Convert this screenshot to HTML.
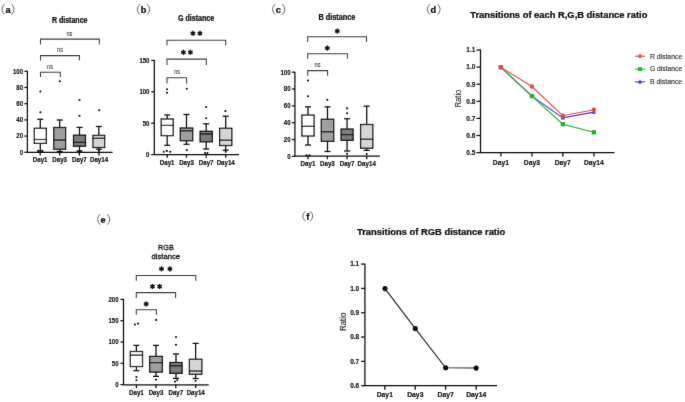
<!DOCTYPE html>
<html><head><meta charset="utf-8"><style>
html,body{margin:0;padding:0;background:#fff;}
svg{display:block;will-change:transform;}
text{font-family:"Liberation Sans", sans-serif;}
</style></head><body>
<svg width="685" height="402" viewBox="0 0 685 402">
<defs><filter id="bl" x="0" y="0" width="100%" height="100%" filterUnits="userSpaceOnUse"><feConvolveMatrix order="3" kernelMatrix="0.00524 0.06192 0.00524 0.06192 0.73137 0.06192 0.00524 0.06192 0.00524" divisor="1" edgeMode="duplicate" preserveAlpha="false"/></filter></defs>
<rect width="685" height="402" fill="#fff"/>
<g filter="url(#bl)">
<path d="M4.50,4.20 Q-0.60,9.40 4.50,14.60" fill="none" stroke="#5a5a5a" stroke-width="0.9"/>
<path d="M11.50,4.20 Q16.60,9.40 11.50,14.60" fill="none" stroke="#5a5a5a" stroke-width="0.9"/>
<text x="5.40" y="13.30" font-size="9.2" font-weight="bold" text-anchor="start" fill="#0a0a0a" stroke="#0a0a0a" stroke-width="0.22" >a</text>
<text x="51.90" y="22.70" font-size="8.2" font-weight="bold" text-anchor="start" fill="#0a0a0a" stroke="#0a0a0a" stroke-width="0.22" textLength="35.60" lengthAdjust="spacingAndGlyphs" >R distance</text>
<path d="M40.50,44.40 V39.10 H99.30 V44.40" fill="none" stroke="#3c3c3c" stroke-width="1.05"/>
<path d="M40.50,60.40 V55.60 H79.40 V60.40" fill="none" stroke="#3c3c3c" stroke-width="1.05"/>
<path d="M40.50,76.90 V72.30 H60.30 V76.90" fill="none" stroke="#3c3c3c" stroke-width="1.05"/>
<text x="69.40" y="35.70" font-size="6.6" font-weight="normal" text-anchor="middle" fill="#2a2a2a" stroke="#2a2a2a" stroke-width="0.06" textLength="5.90" lengthAdjust="spacingAndGlyphs" >ns</text>
<text x="60.00" y="52.10" font-size="6.6" font-weight="normal" text-anchor="middle" fill="#2a2a2a" stroke="#2a2a2a" stroke-width="0.06" textLength="5.90" lengthAdjust="spacingAndGlyphs" >ns</text>
<text x="50.00" y="68.80" font-size="6.6" font-weight="normal" text-anchor="middle" fill="#2a2a2a" stroke="#2a2a2a" stroke-width="0.06" textLength="5.90" lengthAdjust="spacingAndGlyphs" >ns</text>
<line x1="27.40" y1="70.80" x2="27.40" y2="152.80" stroke="#0a0a0a" stroke-width="1.25" />
<line x1="24.40" y1="152.30" x2="27.40" y2="152.30" stroke="#0a0a0a" stroke-width="1.25" />
<text x="23.10" y="154.64" font-size="6.8" font-weight="bold" text-anchor="end" fill="#0a0a0a" stroke="#0a0a0a" stroke-width="0.1" textLength="3.39" lengthAdjust="spacingAndGlyphs" >0</text>
<line x1="24.40" y1="136.10" x2="27.40" y2="136.10" stroke="#0a0a0a" stroke-width="1.25" />
<text x="23.10" y="138.44" font-size="6.8" font-weight="bold" text-anchor="end" fill="#0a0a0a" stroke="#0a0a0a" stroke-width="0.1" textLength="6.78" lengthAdjust="spacingAndGlyphs" >20</text>
<line x1="24.40" y1="119.90" x2="27.40" y2="119.90" stroke="#0a0a0a" stroke-width="1.25" />
<text x="23.10" y="122.24" font-size="6.8" font-weight="bold" text-anchor="end" fill="#0a0a0a" stroke="#0a0a0a" stroke-width="0.1" textLength="6.78" lengthAdjust="spacingAndGlyphs" >40</text>
<line x1="24.40" y1="103.70" x2="27.40" y2="103.70" stroke="#0a0a0a" stroke-width="1.25" />
<text x="23.10" y="106.04" font-size="6.8" font-weight="bold" text-anchor="end" fill="#0a0a0a" stroke="#0a0a0a" stroke-width="0.1" textLength="6.78" lengthAdjust="spacingAndGlyphs" >60</text>
<line x1="24.40" y1="87.50" x2="27.40" y2="87.50" stroke="#0a0a0a" stroke-width="1.25" />
<text x="23.10" y="89.84" font-size="6.8" font-weight="bold" text-anchor="end" fill="#0a0a0a" stroke="#0a0a0a" stroke-width="0.1" textLength="6.78" lengthAdjust="spacingAndGlyphs" >80</text>
<line x1="24.40" y1="71.30" x2="27.40" y2="71.30" stroke="#0a0a0a" stroke-width="1.25" />
<text x="23.10" y="73.64" font-size="6.8" font-weight="bold" text-anchor="end" fill="#0a0a0a" stroke="#0a0a0a" stroke-width="0.1" textLength="10.17" lengthAdjust="spacingAndGlyphs" >100</text>
<line x1="27.40" y1="152.30" x2="112.50" y2="152.30" stroke="#0a0a0a" stroke-width="1.25" />
<line x1="40.20" y1="152.30" x2="40.20" y2="155.50" stroke="#0a0a0a" stroke-width="1.25" />
<text x="40.20" y="161.80" font-size="6.7" font-weight="bold" text-anchor="middle" fill="#0a0a0a" stroke="#0a0a0a" stroke-width="0.14" textLength="14.70" lengthAdjust="spacingAndGlyphs" >Day1</text>
<line x1="59.70" y1="152.30" x2="59.70" y2="155.50" stroke="#0a0a0a" stroke-width="1.25" />
<text x="59.70" y="161.80" font-size="6.7" font-weight="bold" text-anchor="middle" fill="#0a0a0a" stroke="#0a0a0a" stroke-width="0.14" textLength="14.70" lengthAdjust="spacingAndGlyphs" >Day3</text>
<line x1="79.40" y1="152.30" x2="79.40" y2="155.50" stroke="#0a0a0a" stroke-width="1.25" />
<text x="79.40" y="161.80" font-size="6.7" font-weight="bold" text-anchor="middle" fill="#0a0a0a" stroke="#0a0a0a" stroke-width="0.14" textLength="14.70" lengthAdjust="spacingAndGlyphs" >Day7</text>
<line x1="99.00" y1="152.30" x2="99.00" y2="155.50" stroke="#0a0a0a" stroke-width="1.25" />
<text x="99.00" y="161.80" font-size="6.7" font-weight="bold" text-anchor="middle" fill="#0a0a0a" stroke="#0a0a0a" stroke-width="0.14" textLength="18.12" lengthAdjust="spacingAndGlyphs" >Day14</text>
<line x1="40.30" y1="119.30" x2="40.30" y2="128.30" stroke="#0a0a0a" stroke-width="1.25" />
<line x1="40.30" y1="143.30" x2="40.30" y2="151.20" stroke="#0a0a0a" stroke-width="1.25" />
<line x1="37.30" y1="119.30" x2="43.30" y2="119.30" stroke="#0a0a0a" stroke-width="1.25" />
<line x1="37.30" y1="151.20" x2="43.30" y2="151.20" stroke="#0a0a0a" stroke-width="1.25" />
<rect x="34.30" y="128.30" width="12.00" height="15.00" fill="#ffffff" stroke="#0a0a0a" stroke-width="1.25"/>
<line x1="34.30" y1="139.50" x2="46.30" y2="139.50" stroke="#0a0a0a" stroke-width="1.25" />
<line x1="59.70" y1="120.00" x2="59.70" y2="127.50" stroke="#0a0a0a" stroke-width="1.25" />
<line x1="59.70" y1="149.20" x2="59.70" y2="151.50" stroke="#0a0a0a" stroke-width="1.25" />
<line x1="56.70" y1="120.00" x2="62.70" y2="120.00" stroke="#0a0a0a" stroke-width="1.25" />
<line x1="56.70" y1="151.50" x2="62.70" y2="151.50" stroke="#0a0a0a" stroke-width="1.25" />
<rect x="53.80" y="127.50" width="11.80" height="21.70" fill="#9f9fa2" stroke="#0a0a0a" stroke-width="1.25"/>
<line x1="53.80" y1="140.10" x2="65.60" y2="140.10" stroke="#0a0a0a" stroke-width="1.25" />
<line x1="79.50" y1="127.40" x2="79.50" y2="135.20" stroke="#0a0a0a" stroke-width="1.25" />
<line x1="79.50" y1="146.20" x2="79.50" y2="151.00" stroke="#0a0a0a" stroke-width="1.25" />
<line x1="76.50" y1="127.40" x2="82.50" y2="127.40" stroke="#0a0a0a" stroke-width="1.25" />
<line x1="76.50" y1="151.00" x2="82.50" y2="151.00" stroke="#0a0a0a" stroke-width="1.25" />
<rect x="73.50" y="135.20" width="12.00" height="11.00" fill="#7c7c7c" stroke="#0a0a0a" stroke-width="1.25"/>
<line x1="73.50" y1="142.40" x2="85.50" y2="142.40" stroke="#0a0a0a" stroke-width="1.25" />
<line x1="98.80" y1="126.50" x2="98.80" y2="135.40" stroke="#0a0a0a" stroke-width="1.25" />
<line x1="98.80" y1="147.50" x2="98.80" y2="149.20" stroke="#0a0a0a" stroke-width="1.25" />
<line x1="95.80" y1="126.50" x2="101.80" y2="126.50" stroke="#0a0a0a" stroke-width="1.25" />
<line x1="95.80" y1="149.20" x2="101.80" y2="149.20" stroke="#0a0a0a" stroke-width="1.25" />
<rect x="92.95" y="135.40" width="11.70" height="12.10" fill="#d5d5d5" stroke="#0a0a0a" stroke-width="1.25"/>
<line x1="92.95" y1="138.30" x2="104.65" y2="138.30" stroke="#0a0a0a" stroke-width="1.25" />
<circle cx="40.40" cy="112.20" r="1.05" fill="#0a0a0a"/>
<circle cx="40.40" cy="91.50" r="1.05" fill="#0a0a0a"/>
<circle cx="59.80" cy="81.30" r="1.05" fill="#0a0a0a"/>
<circle cx="79.50" cy="115.80" r="1.05" fill="#0a0a0a"/>
<circle cx="79.50" cy="100.00" r="1.05" fill="#0a0a0a"/>
<circle cx="99.20" cy="110.30" r="1.05" fill="#0a0a0a"/>
<circle cx="38.30" cy="150.80" r="1.05" fill="#0a0a0a"/>
<circle cx="42.30" cy="150.80" r="1.05" fill="#0a0a0a"/>
<circle cx="59.70" cy="151.80" r="1.05" fill="#0a0a0a"/>
<circle cx="99.00" cy="150.90" r="1.05" fill="#0a0a0a"/>
<ellipse cx="79.5" cy="151.6" rx="2.6" ry="1.0" fill="#151515"/>
<path d="M139.90,4.20 Q134.80,9.40 139.90,14.60" fill="none" stroke="#5a5a5a" stroke-width="0.9"/>
<path d="M147.20,4.20 Q152.30,9.40 147.20,14.60" fill="none" stroke="#5a5a5a" stroke-width="0.9"/>
<text x="140.80" y="13.30" font-size="9.2" font-weight="bold" text-anchor="start" fill="#0a0a0a" stroke="#0a0a0a" stroke-width="0.22" >b</text>
<text x="177.90" y="21.30" font-size="8.2" font-weight="bold" text-anchor="start" fill="#0a0a0a" stroke="#0a0a0a" stroke-width="0.22" textLength="36.40" lengthAdjust="spacingAndGlyphs" >G distance</text>
<path d="M167.00,45.40 V40.20 H225.70 V45.40" fill="none" stroke="#3c3c3c" stroke-width="1.05"/>
<path d="M167.00,64.90 V59.10 H206.30 V64.90" fill="none" stroke="#3c3c3c" stroke-width="1.05"/>
<path d="M167.00,83.50 V77.80 H186.60 V83.50" fill="none" stroke="#3c3c3c" stroke-width="1.05"/>
<line x1="192.90" y1="30.75" x2="192.90" y2="35.85" stroke="#0a0a0a" stroke-width="1.45" />
<line x1="190.69" y1="32.02" x2="195.11" y2="34.57" stroke="#0a0a0a" stroke-width="1.45" />
<line x1="190.69" y1="34.57" x2="195.11" y2="32.02" stroke="#0a0a0a" stroke-width="1.45" />
<line x1="199.90" y1="30.75" x2="199.90" y2="35.85" stroke="#0a0a0a" stroke-width="1.45" />
<line x1="197.69" y1="32.02" x2="202.11" y2="34.57" stroke="#0a0a0a" stroke-width="1.45" />
<line x1="197.69" y1="34.57" x2="202.11" y2="32.02" stroke="#0a0a0a" stroke-width="1.45" />
<line x1="183.40" y1="49.75" x2="183.40" y2="54.85" stroke="#0a0a0a" stroke-width="1.45" />
<line x1="181.19" y1="51.02" x2="185.61" y2="53.57" stroke="#0a0a0a" stroke-width="1.45" />
<line x1="181.19" y1="53.57" x2="185.61" y2="51.02" stroke="#0a0a0a" stroke-width="1.45" />
<line x1="190.40" y1="49.75" x2="190.40" y2="54.85" stroke="#0a0a0a" stroke-width="1.45" />
<line x1="188.19" y1="51.02" x2="192.61" y2="53.57" stroke="#0a0a0a" stroke-width="1.45" />
<line x1="188.19" y1="53.57" x2="192.61" y2="51.02" stroke="#0a0a0a" stroke-width="1.45" />
<text x="177.20" y="74.10" font-size="6.6" font-weight="normal" text-anchor="middle" fill="#2a2a2a" stroke="#2a2a2a" stroke-width="0.06" textLength="5.90" lengthAdjust="spacingAndGlyphs" >ns</text>
<line x1="154.30" y1="59.90" x2="154.30" y2="155.10" stroke="#0a0a0a" stroke-width="1.25" />
<line x1="151.30" y1="154.60" x2="154.30" y2="154.60" stroke="#0a0a0a" stroke-width="1.25" />
<text x="149.40" y="156.94" font-size="6.8" font-weight="bold" text-anchor="end" fill="#0a0a0a" stroke="#0a0a0a" stroke-width="0.1" textLength="3.34" lengthAdjust="spacingAndGlyphs" >0</text>
<line x1="151.30" y1="123.20" x2="154.30" y2="123.20" stroke="#0a0a0a" stroke-width="1.25" />
<text x="149.40" y="125.54" font-size="6.8" font-weight="bold" text-anchor="end" fill="#0a0a0a" stroke="#0a0a0a" stroke-width="0.1" textLength="6.67" lengthAdjust="spacingAndGlyphs" >50</text>
<line x1="151.30" y1="91.80" x2="154.30" y2="91.80" stroke="#0a0a0a" stroke-width="1.25" />
<text x="149.40" y="94.14" font-size="6.8" font-weight="bold" text-anchor="end" fill="#0a0a0a" stroke="#0a0a0a" stroke-width="0.1" textLength="10.01" lengthAdjust="spacingAndGlyphs" >100</text>
<line x1="151.30" y1="60.40" x2="154.30" y2="60.40" stroke="#0a0a0a" stroke-width="1.25" />
<text x="149.40" y="62.74" font-size="6.8" font-weight="bold" text-anchor="end" fill="#0a0a0a" stroke="#0a0a0a" stroke-width="0.1" textLength="10.01" lengthAdjust="spacingAndGlyphs" >150</text>
<line x1="154.30" y1="154.50" x2="239.00" y2="154.50" stroke="#0a0a0a" stroke-width="1.25" />
<line x1="167.20" y1="154.50" x2="167.20" y2="157.70" stroke="#0a0a0a" stroke-width="1.25" />
<text x="167.20" y="164.70" font-size="6.7" font-weight="bold" text-anchor="middle" fill="#0a0a0a" stroke="#0a0a0a" stroke-width="0.14" textLength="14.70" lengthAdjust="spacingAndGlyphs" >Day1</text>
<line x1="186.50" y1="154.50" x2="186.50" y2="157.70" stroke="#0a0a0a" stroke-width="1.25" />
<text x="186.50" y="164.70" font-size="6.7" font-weight="bold" text-anchor="middle" fill="#0a0a0a" stroke="#0a0a0a" stroke-width="0.14" textLength="14.70" lengthAdjust="spacingAndGlyphs" >Day3</text>
<line x1="206.20" y1="154.50" x2="206.20" y2="157.70" stroke="#0a0a0a" stroke-width="1.25" />
<text x="206.20" y="164.70" font-size="6.7" font-weight="bold" text-anchor="middle" fill="#0a0a0a" stroke="#0a0a0a" stroke-width="0.14" textLength="14.70" lengthAdjust="spacingAndGlyphs" >Day7</text>
<line x1="225.70" y1="154.50" x2="225.70" y2="157.70" stroke="#0a0a0a" stroke-width="1.25" />
<text x="225.70" y="164.70" font-size="6.7" font-weight="bold" text-anchor="middle" fill="#0a0a0a" stroke="#0a0a0a" stroke-width="0.14" textLength="18.12" lengthAdjust="spacingAndGlyphs" >Day14</text>
<line x1="167.20" y1="114.90" x2="167.20" y2="119.00" stroke="#0a0a0a" stroke-width="1.25" />
<line x1="167.20" y1="135.60" x2="167.20" y2="145.30" stroke="#0a0a0a" stroke-width="1.25" />
<line x1="164.20" y1="114.90" x2="170.20" y2="114.90" stroke="#0a0a0a" stroke-width="1.25" />
<line x1="164.20" y1="145.30" x2="170.20" y2="145.30" stroke="#0a0a0a" stroke-width="1.25" />
<rect x="161.20" y="119.00" width="12.00" height="16.60" fill="#ffffff" stroke="#0a0a0a" stroke-width="1.25"/>
<line x1="161.20" y1="125.40" x2="173.20" y2="125.40" stroke="#0a0a0a" stroke-width="1.25" />
<line x1="186.50" y1="114.50" x2="186.50" y2="128.00" stroke="#0a0a0a" stroke-width="1.25" />
<line x1="186.50" y1="140.70" x2="186.50" y2="144.30" stroke="#0a0a0a" stroke-width="1.25" />
<line x1="183.50" y1="114.50" x2="189.50" y2="114.50" stroke="#0a0a0a" stroke-width="1.25" />
<line x1="183.50" y1="144.30" x2="189.50" y2="144.30" stroke="#0a0a0a" stroke-width="1.25" />
<rect x="180.30" y="128.00" width="12.40" height="12.70" fill="#9f9fa2" stroke="#0a0a0a" stroke-width="1.25"/>
<line x1="180.30" y1="130.80" x2="192.70" y2="130.80" stroke="#0a0a0a" stroke-width="1.25" />
<line x1="206.20" y1="123.80" x2="206.20" y2="131.30" stroke="#0a0a0a" stroke-width="1.25" />
<line x1="206.20" y1="141.80" x2="206.20" y2="149.00" stroke="#0a0a0a" stroke-width="1.25" />
<line x1="203.20" y1="123.80" x2="209.20" y2="123.80" stroke="#0a0a0a" stroke-width="1.25" />
<line x1="203.20" y1="149.00" x2="209.20" y2="149.00" stroke="#0a0a0a" stroke-width="1.25" />
<rect x="200.10" y="131.30" width="12.20" height="10.50" fill="#7c7c7c" stroke="#0a0a0a" stroke-width="1.25"/>
<line x1="200.10" y1="133.90" x2="212.30" y2="133.90" stroke="#0a0a0a" stroke-width="1.25" />
<line x1="225.70" y1="116.20" x2="225.70" y2="128.30" stroke="#0a0a0a" stroke-width="1.25" />
<line x1="225.70" y1="145.50" x2="225.70" y2="150.20" stroke="#0a0a0a" stroke-width="1.25" />
<line x1="222.70" y1="116.20" x2="228.70" y2="116.20" stroke="#0a0a0a" stroke-width="1.25" />
<line x1="222.70" y1="150.20" x2="228.70" y2="150.20" stroke="#0a0a0a" stroke-width="1.25" />
<rect x="219.60" y="128.30" width="12.20" height="17.20" fill="#d5d5d5" stroke="#0a0a0a" stroke-width="1.25"/>
<line x1="219.60" y1="140.20" x2="231.80" y2="140.20" stroke="#0a0a0a" stroke-width="1.25" />
<circle cx="167.00" cy="89.30" r="1.05" fill="#0a0a0a"/>
<circle cx="167.00" cy="92.80" r="1.05" fill="#0a0a0a"/>
<circle cx="163.80" cy="151.70" r="1.05" fill="#0a0a0a"/>
<circle cx="166.80" cy="150.90" r="1.05" fill="#0a0a0a"/>
<circle cx="170.30" cy="151.70" r="1.05" fill="#0a0a0a"/>
<circle cx="186.80" cy="88.70" r="1.05" fill="#0a0a0a"/>
<circle cx="186.80" cy="150.00" r="1.05" fill="#0a0a0a"/>
<circle cx="206.20" cy="107.00" r="1.05" fill="#0a0a0a"/>
<circle cx="206.20" cy="118.20" r="1.05" fill="#0a0a0a"/>
<circle cx="205.00" cy="153.00" r="1.05" fill="#0a0a0a"/>
<circle cx="207.40" cy="153.00" r="1.05" fill="#0a0a0a"/>
<circle cx="225.40" cy="111.10" r="1.05" fill="#0a0a0a"/>
<circle cx="225.70" cy="151.80" r="1.05" fill="#0a0a0a"/>
<path d="M275.10,4.20 Q270.00,9.40 275.10,14.60" fill="none" stroke="#5a5a5a" stroke-width="0.9"/>
<path d="M282.30,4.20 Q287.40,9.40 282.30,14.60" fill="none" stroke="#5a5a5a" stroke-width="0.9"/>
<text x="275.70" y="13.40" font-size="9.2" font-weight="bold" text-anchor="start" fill="#0a0a0a" stroke="#0a0a0a" stroke-width="0.22" >c</text>
<text x="318.40" y="20.40" font-size="8.2" font-weight="bold" text-anchor="start" fill="#0a0a0a" stroke="#0a0a0a" stroke-width="0.22" textLength="36.90" lengthAdjust="spacingAndGlyphs" >B distance</text>
<path d="M307.70,41.90 V36.80 H366.50 V41.90" fill="none" stroke="#3c3c3c" stroke-width="1.05"/>
<path d="M307.70,58.80 V53.70 H347.40 V58.80" fill="none" stroke="#3c3c3c" stroke-width="1.05"/>
<path d="M307.70,75.80 V70.60 H327.60 V75.80" fill="none" stroke="#3c3c3c" stroke-width="1.05"/>
<line x1="337.30" y1="28.55" x2="337.30" y2="33.65" stroke="#0a0a0a" stroke-width="1.45" />
<line x1="335.09" y1="29.83" x2="339.51" y2="32.38" stroke="#0a0a0a" stroke-width="1.45" />
<line x1="335.09" y1="32.38" x2="339.51" y2="29.83" stroke="#0a0a0a" stroke-width="1.45" />
<line x1="327.30" y1="45.55" x2="327.30" y2="50.65" stroke="#0a0a0a" stroke-width="1.45" />
<line x1="325.09" y1="46.83" x2="329.51" y2="49.38" stroke="#0a0a0a" stroke-width="1.45" />
<line x1="325.09" y1="49.38" x2="329.51" y2="46.83" stroke="#0a0a0a" stroke-width="1.45" />
<text x="317.50" y="67.10" font-size="6.6" font-weight="normal" text-anchor="middle" fill="#2a2a2a" stroke="#2a2a2a" stroke-width="0.06" textLength="5.90" lengthAdjust="spacingAndGlyphs" >ns</text>
<line x1="294.90" y1="71.70" x2="294.90" y2="156.90" stroke="#0a0a0a" stroke-width="1.25" />
<line x1="291.90" y1="156.40" x2="294.90" y2="156.40" stroke="#0a0a0a" stroke-width="1.25" />
<text x="290.60" y="158.74" font-size="6.8" font-weight="bold" text-anchor="end" fill="#0a0a0a" stroke="#0a0a0a" stroke-width="0.1" textLength="3.39" lengthAdjust="spacingAndGlyphs" >0</text>
<line x1="291.90" y1="139.56" x2="294.90" y2="139.56" stroke="#0a0a0a" stroke-width="1.25" />
<text x="290.60" y="141.90" font-size="6.8" font-weight="bold" text-anchor="end" fill="#0a0a0a" stroke="#0a0a0a" stroke-width="0.1" textLength="6.78" lengthAdjust="spacingAndGlyphs" >20</text>
<line x1="291.90" y1="122.72" x2="294.90" y2="122.72" stroke="#0a0a0a" stroke-width="1.25" />
<text x="290.60" y="125.06" font-size="6.8" font-weight="bold" text-anchor="end" fill="#0a0a0a" stroke="#0a0a0a" stroke-width="0.1" textLength="6.78" lengthAdjust="spacingAndGlyphs" >40</text>
<line x1="291.90" y1="105.88" x2="294.90" y2="105.88" stroke="#0a0a0a" stroke-width="1.25" />
<text x="290.60" y="108.22" font-size="6.8" font-weight="bold" text-anchor="end" fill="#0a0a0a" stroke="#0a0a0a" stroke-width="0.1" textLength="6.78" lengthAdjust="spacingAndGlyphs" >60</text>
<line x1="291.90" y1="89.04" x2="294.90" y2="89.04" stroke="#0a0a0a" stroke-width="1.25" />
<text x="290.60" y="91.38" font-size="6.8" font-weight="bold" text-anchor="end" fill="#0a0a0a" stroke="#0a0a0a" stroke-width="0.1" textLength="6.78" lengthAdjust="spacingAndGlyphs" >80</text>
<line x1="291.90" y1="72.20" x2="294.90" y2="72.20" stroke="#0a0a0a" stroke-width="1.25" />
<text x="290.60" y="74.54" font-size="6.8" font-weight="bold" text-anchor="end" fill="#0a0a0a" stroke="#0a0a0a" stroke-width="0.1" textLength="10.17" lengthAdjust="spacingAndGlyphs" >100</text>
<line x1="294.90" y1="156.00" x2="379.80" y2="156.00" stroke="#0a0a0a" stroke-width="1.25" />
<line x1="308.00" y1="156.00" x2="308.00" y2="159.20" stroke="#0a0a0a" stroke-width="1.25" />
<text x="308.00" y="165.90" font-size="6.7" font-weight="bold" text-anchor="middle" fill="#0a0a0a" stroke="#0a0a0a" stroke-width="0.14" textLength="14.82" lengthAdjust="spacingAndGlyphs" >Day1</text>
<line x1="327.40" y1="156.00" x2="327.40" y2="159.20" stroke="#0a0a0a" stroke-width="1.25" />
<text x="327.40" y="165.90" font-size="6.7" font-weight="bold" text-anchor="middle" fill="#0a0a0a" stroke="#0a0a0a" stroke-width="0.14" textLength="14.82" lengthAdjust="spacingAndGlyphs" >Day3</text>
<line x1="347.10" y1="156.00" x2="347.10" y2="159.20" stroke="#0a0a0a" stroke-width="1.25" />
<text x="347.10" y="165.90" font-size="6.7" font-weight="bold" text-anchor="middle" fill="#0a0a0a" stroke="#0a0a0a" stroke-width="0.14" textLength="14.82" lengthAdjust="spacingAndGlyphs" >Day7</text>
<line x1="366.70" y1="156.00" x2="366.70" y2="159.20" stroke="#0a0a0a" stroke-width="1.25" />
<text x="366.70" y="165.90" font-size="6.7" font-weight="bold" text-anchor="middle" fill="#0a0a0a" stroke="#0a0a0a" stroke-width="0.14" textLength="18.27" lengthAdjust="spacingAndGlyphs" >Day14</text>
<line x1="308.00" y1="106.80" x2="308.00" y2="115.10" stroke="#0a0a0a" stroke-width="1.25" />
<line x1="308.00" y1="136.00" x2="308.00" y2="145.00" stroke="#0a0a0a" stroke-width="1.25" />
<line x1="305.00" y1="106.80" x2="311.00" y2="106.80" stroke="#0a0a0a" stroke-width="1.25" />
<line x1="305.00" y1="145.00" x2="311.00" y2="145.00" stroke="#0a0a0a" stroke-width="1.25" />
<rect x="301.90" y="115.10" width="12.20" height="20.90" fill="#ffffff" stroke="#0a0a0a" stroke-width="1.25"/>
<line x1="301.90" y1="126.30" x2="314.10" y2="126.30" stroke="#0a0a0a" stroke-width="1.25" />
<line x1="327.50" y1="106.80" x2="327.50" y2="119.30" stroke="#0a0a0a" stroke-width="1.25" />
<line x1="327.50" y1="141.30" x2="327.50" y2="151.50" stroke="#0a0a0a" stroke-width="1.25" />
<line x1="324.50" y1="106.80" x2="330.50" y2="106.80" stroke="#0a0a0a" stroke-width="1.25" />
<line x1="324.50" y1="151.50" x2="330.50" y2="151.50" stroke="#0a0a0a" stroke-width="1.25" />
<rect x="321.30" y="119.30" width="12.40" height="22.00" fill="#9f9fa2" stroke="#0a0a0a" stroke-width="1.25"/>
<line x1="321.30" y1="131.80" x2="333.70" y2="131.80" stroke="#0a0a0a" stroke-width="1.25" />
<line x1="347.10" y1="118.70" x2="347.10" y2="129.10" stroke="#0a0a0a" stroke-width="1.25" />
<line x1="347.10" y1="140.30" x2="347.10" y2="151.00" stroke="#0a0a0a" stroke-width="1.25" />
<line x1="344.10" y1="118.70" x2="350.10" y2="118.70" stroke="#0a0a0a" stroke-width="1.25" />
<line x1="344.10" y1="151.00" x2="350.10" y2="151.00" stroke="#0a0a0a" stroke-width="1.25" />
<rect x="341.10" y="129.10" width="12.00" height="11.20" fill="#7c7c7c" stroke="#0a0a0a" stroke-width="1.25"/>
<line x1="341.10" y1="134.60" x2="353.10" y2="134.60" stroke="#0a0a0a" stroke-width="1.25" />
<line x1="366.70" y1="106.20" x2="366.70" y2="124.50" stroke="#0a0a0a" stroke-width="1.25" />
<line x1="366.70" y1="148.20" x2="366.70" y2="150.40" stroke="#0a0a0a" stroke-width="1.25" />
<line x1="363.70" y1="106.20" x2="369.70" y2="106.20" stroke="#0a0a0a" stroke-width="1.25" />
<line x1="363.70" y1="150.40" x2="369.70" y2="150.40" stroke="#0a0a0a" stroke-width="1.25" />
<rect x="360.60" y="124.50" width="12.20" height="23.70" fill="#d5d5d5" stroke="#0a0a0a" stroke-width="1.25"/>
<line x1="360.60" y1="139.20" x2="372.80" y2="139.20" stroke="#0a0a0a" stroke-width="1.25" />
<circle cx="308.00" cy="80.50" r="1.05" fill="#0a0a0a"/>
<circle cx="308.00" cy="96.20" r="1.05" fill="#0a0a0a"/>
<circle cx="327.30" cy="99.70" r="1.05" fill="#0a0a0a"/>
<circle cx="306.50" cy="155.40" r="1.05" fill="#0a0a0a"/>
<circle cx="309.50" cy="155.40" r="1.05" fill="#0a0a0a"/>
<circle cx="347.10" cy="108.40" r="1.05" fill="#0a0a0a"/>
<circle cx="347.10" cy="113.30" r="1.05" fill="#0a0a0a"/>
<circle cx="347.10" cy="153.80" r="1.05" fill="#0a0a0a"/>
<circle cx="366.70" cy="154.00" r="1.05" fill="#0a0a0a"/>
<path d="M429.90,4.20 Q424.80,9.40 429.90,14.60" fill="none" stroke="#5a5a5a" stroke-width="0.9"/>
<path d="M437.60,4.20 Q442.70,9.40 437.60,14.60" fill="none" stroke="#5a5a5a" stroke-width="0.9"/>
<text x="430.60" y="13.30" font-size="9.2" font-weight="bold" text-anchor="start" fill="#0a0a0a" stroke="#0a0a0a" stroke-width="0.22" >d</text>
<text x="470.20" y="17.90" font-size="9.0" font-weight="bold" text-anchor="start" fill="#0a0a0a" stroke="#0a0a0a" stroke-width="0.22" textLength="177.20" lengthAdjust="spacingAndGlyphs" >Transitions of each R,G,B distance ratio</text>
<line x1="480.50" y1="49.50" x2="480.50" y2="153.20" stroke="#0a0a0a" stroke-width="1.25" />
<line x1="476.50" y1="152.60" x2="480.50" y2="152.60" stroke="#0a0a0a" stroke-width="1.25" />
<text x="475.40" y="154.94" font-size="6.8" font-weight="bold" text-anchor="end" fill="#0a0a0a" stroke="#0a0a0a" stroke-width="0.1" textLength="9.04" lengthAdjust="spacingAndGlyphs" >0.5</text>
<line x1="476.50" y1="135.50" x2="480.50" y2="135.50" stroke="#0a0a0a" stroke-width="1.25" />
<text x="475.40" y="137.84" font-size="6.8" font-weight="bold" text-anchor="end" fill="#0a0a0a" stroke="#0a0a0a" stroke-width="0.1" textLength="9.04" lengthAdjust="spacingAndGlyphs" >0.6</text>
<line x1="476.50" y1="118.40" x2="480.50" y2="118.40" stroke="#0a0a0a" stroke-width="1.25" />
<text x="475.40" y="120.74" font-size="6.8" font-weight="bold" text-anchor="end" fill="#0a0a0a" stroke="#0a0a0a" stroke-width="0.1" textLength="9.04" lengthAdjust="spacingAndGlyphs" >0.7</text>
<line x1="476.50" y1="101.30" x2="480.50" y2="101.30" stroke="#0a0a0a" stroke-width="1.25" />
<text x="475.40" y="103.64" font-size="6.8" font-weight="bold" text-anchor="end" fill="#0a0a0a" stroke="#0a0a0a" stroke-width="0.1" textLength="9.04" lengthAdjust="spacingAndGlyphs" >0.8</text>
<line x1="476.50" y1="84.20" x2="480.50" y2="84.20" stroke="#0a0a0a" stroke-width="1.25" />
<text x="475.40" y="86.54" font-size="6.8" font-weight="bold" text-anchor="end" fill="#0a0a0a" stroke="#0a0a0a" stroke-width="0.1" textLength="9.04" lengthAdjust="spacingAndGlyphs" >0.9</text>
<line x1="476.50" y1="67.10" x2="480.50" y2="67.10" stroke="#0a0a0a" stroke-width="1.25" />
<text x="475.40" y="69.44" font-size="6.8" font-weight="bold" text-anchor="end" fill="#0a0a0a" stroke="#0a0a0a" stroke-width="0.1" textLength="9.04" lengthAdjust="spacingAndGlyphs" >1.0</text>
<line x1="476.50" y1="50.00" x2="480.50" y2="50.00" stroke="#0a0a0a" stroke-width="1.25" />
<text x="475.40" y="52.34" font-size="6.8" font-weight="bold" text-anchor="end" fill="#0a0a0a" stroke="#0a0a0a" stroke-width="0.1" textLength="9.04" lengthAdjust="spacingAndGlyphs" >1.1</text>
<line x1="480.50" y1="152.70" x2="614.40" y2="152.70" stroke="#0a0a0a" stroke-width="1.25" />
<line x1="500.90" y1="152.70" x2="500.90" y2="156.50" stroke="#0a0a0a" stroke-width="1.25" />
<text x="500.90" y="164.70" font-size="7.9" font-weight="bold" text-anchor="middle" fill="#0a0a0a" stroke="#0a0a0a" stroke-width="0.14" textLength="16.13" lengthAdjust="spacingAndGlyphs" >Day1</text>
<line x1="531.90" y1="152.70" x2="531.90" y2="156.50" stroke="#0a0a0a" stroke-width="1.25" />
<text x="531.90" y="164.70" font-size="7.9" font-weight="bold" text-anchor="middle" fill="#0a0a0a" stroke="#0a0a0a" stroke-width="0.14" textLength="16.13" lengthAdjust="spacingAndGlyphs" >Day3</text>
<line x1="562.80" y1="152.70" x2="562.80" y2="156.50" stroke="#0a0a0a" stroke-width="1.25" />
<text x="562.80" y="164.70" font-size="7.9" font-weight="bold" text-anchor="middle" fill="#0a0a0a" stroke="#0a0a0a" stroke-width="0.14" textLength="16.13" lengthAdjust="spacingAndGlyphs" >Day7</text>
<line x1="593.90" y1="152.70" x2="593.90" y2="156.50" stroke="#0a0a0a" stroke-width="1.25" />
<text x="593.90" y="164.70" font-size="7.9" font-weight="bold" text-anchor="middle" fill="#0a0a0a" stroke="#0a0a0a" stroke-width="0.14" textLength="19.89" lengthAdjust="spacingAndGlyphs" >Day14</text>
<text x="461.50" y="98.60" font-size="8.3" font-weight="normal" text-anchor="middle" fill="#222" stroke="#222" stroke-width="0.08" textLength="17.90" lengthAdjust="spacingAndGlyphs" transform="rotate(-90 461.5 98.6)">Ratio</text>
<polyline points="500.80,67.20 531.90,96.10 562.80,117.90 593.90,112.10" fill="none" stroke="#3b3be0" stroke-width="1.1"/>
<polyline points="500.80,67.20 531.90,96.10 562.80,124.20 593.90,132.30" fill="none" stroke="#1db31d" stroke-width="1.1"/>
<polyline points="500.80,67.20 531.90,86.50 562.80,115.70 593.90,109.70" fill="none" stroke="#e8474a" stroke-width="1.1"/>
<path d="M500.80,64.62 L502.95,68.92 L498.65,68.92 Z" fill="#3b3be0"/>
<path d="M531.90,93.52 L534.05,97.82 L529.75,97.82 Z" fill="#3b3be0"/>
<path d="M562.80,115.32 L564.95,119.62 L560.65,119.62 Z" fill="#3b3be0"/>
<path d="M593.90,109.52 L596.05,113.82 L591.75,113.82 Z" fill="#3b3be0"/>
<rect x="498.70" y="65.10" width="4.2" height="4.2" fill="#1db31d"/>
<rect x="529.80" y="94.00" width="4.2" height="4.2" fill="#1db31d"/>
<rect x="560.70" y="122.10" width="4.2" height="4.2" fill="#1db31d"/>
<rect x="591.80" y="130.20" width="4.2" height="4.2" fill="#1db31d"/>
<circle cx="500.80" cy="67.20" r="2.2" fill="#e8474a"/>
<circle cx="531.90" cy="86.50" r="2.2" fill="#e8474a"/>
<circle cx="562.80" cy="115.70" r="2.2" fill="#e8474a"/>
<circle cx="593.90" cy="109.70" r="2.2" fill="#e8474a"/>
<rect x="498.80" y="65.20" width="4.0" height="4.0" fill="#e8474a"/>
<line x1="635.00" y1="56.20" x2="645.00" y2="56.20" stroke="#e8474a" stroke-width="1.1" />
<circle cx="640.00" cy="56.20" r="1.9" fill="#e8474a"/>
<text x="649.90" y="58.50" font-size="8.0" font-weight="normal" text-anchor="start" fill="#2c2c2c" stroke="#2c2c2c" stroke-width="0.15" textLength="32.30" lengthAdjust="spacingAndGlyphs" >R distance</text>
<line x1="635.00" y1="69.10" x2="645.00" y2="69.10" stroke="#1db31d" stroke-width="1.1" />
<rect x="638.10" y="67.20" width="3.8" height="3.8" fill="#1db31d"/>
<text x="649.90" y="71.40" font-size="8.0" font-weight="normal" text-anchor="start" fill="#2c2c2c" stroke="#2c2c2c" stroke-width="0.15" textLength="32.30" lengthAdjust="spacingAndGlyphs" >G distance</text>
<line x1="635.00" y1="81.80" x2="645.00" y2="81.80" stroke="#3b3be0" stroke-width="1.1" />
<path d="M640.00,79.28 L642.10,83.48 L637.90,83.48 Z" fill="#3b3be0"/>
<text x="649.90" y="84.10" font-size="8.0" font-weight="normal" text-anchor="start" fill="#2c2c2c" stroke="#2c2c2c" stroke-width="0.15" textLength="32.30" lengthAdjust="spacingAndGlyphs" >B distance</text>
<path d="M100.10,214.20 Q95.00,219.45 100.10,224.70" fill="none" stroke="#5a5a5a" stroke-width="0.9"/>
<path d="M107.30,214.20 Q112.40,219.45 107.30,224.70" fill="none" stroke="#5a5a5a" stroke-width="0.9"/>
<text x="100.50" y="223.30" font-size="9.2" font-weight="bold" text-anchor="start" fill="#0a0a0a" stroke="#0a0a0a" stroke-width="0.22" >e</text>
<text x="165.90" y="250.20" font-size="8.0" font-weight="normal" text-anchor="middle" fill="#111" stroke="#111" stroke-width="0.3" textLength="15.60" lengthAdjust="spacingAndGlyphs" >RGB</text>
<text x="165.80" y="258.50" font-size="8.0" font-weight="normal" text-anchor="middle" fill="#111" stroke="#111" stroke-width="0.3" textLength="28.40" lengthAdjust="spacingAndGlyphs" >distance</text>
<path d="M136.30,280.70 V275.40 H195.80 V280.70" fill="none" stroke="#3c3c3c" stroke-width="1.05"/>
<path d="M136.30,297.90 V292.60 H175.60 V297.90" fill="none" stroke="#3c3c3c" stroke-width="1.05"/>
<path d="M136.30,314.80 V309.70 H156.40 V314.80" fill="none" stroke="#3c3c3c" stroke-width="1.05"/>
<line x1="161.50" y1="266.35" x2="161.50" y2="271.45" stroke="#0a0a0a" stroke-width="1.45" />
<line x1="159.29" y1="267.62" x2="163.71" y2="270.17" stroke="#0a0a0a" stroke-width="1.45" />
<line x1="159.29" y1="270.17" x2="163.71" y2="267.62" stroke="#0a0a0a" stroke-width="1.45" />
<line x1="169.90" y1="266.35" x2="169.90" y2="271.45" stroke="#0a0a0a" stroke-width="1.45" />
<line x1="167.69" y1="267.62" x2="172.11" y2="270.17" stroke="#0a0a0a" stroke-width="1.45" />
<line x1="167.69" y1="270.17" x2="172.11" y2="267.62" stroke="#0a0a0a" stroke-width="1.45" />
<line x1="152.50" y1="283.95" x2="152.50" y2="289.05" stroke="#0a0a0a" stroke-width="1.45" />
<line x1="150.29" y1="285.23" x2="154.71" y2="287.77" stroke="#0a0a0a" stroke-width="1.45" />
<line x1="150.29" y1="287.77" x2="154.71" y2="285.23" stroke="#0a0a0a" stroke-width="1.45" />
<line x1="159.60" y1="283.95" x2="159.60" y2="289.05" stroke="#0a0a0a" stroke-width="1.45" />
<line x1="157.39" y1="285.23" x2="161.81" y2="287.77" stroke="#0a0a0a" stroke-width="1.45" />
<line x1="157.39" y1="287.77" x2="161.81" y2="285.23" stroke="#0a0a0a" stroke-width="1.45" />
<line x1="146.20" y1="301.45" x2="146.20" y2="306.55" stroke="#0a0a0a" stroke-width="1.45" />
<line x1="143.99" y1="302.73" x2="148.41" y2="305.27" stroke="#0a0a0a" stroke-width="1.45" />
<line x1="143.99" y1="305.27" x2="148.41" y2="302.73" stroke="#0a0a0a" stroke-width="1.45" />
<line x1="123.50" y1="298.90" x2="123.50" y2="385.10" stroke="#0a0a0a" stroke-width="1.25" />
<line x1="120.50" y1="384.60" x2="123.50" y2="384.60" stroke="#0a0a0a" stroke-width="1.25" />
<text x="118.60" y="386.94" font-size="6.8" font-weight="bold" text-anchor="end" fill="#0a0a0a" stroke="#0a0a0a" stroke-width="0.1" textLength="3.36" lengthAdjust="spacingAndGlyphs" >0</text>
<line x1="120.50" y1="363.30" x2="123.50" y2="363.30" stroke="#0a0a0a" stroke-width="1.25" />
<text x="118.60" y="365.64" font-size="6.8" font-weight="bold" text-anchor="end" fill="#0a0a0a" stroke="#0a0a0a" stroke-width="0.1" textLength="6.73" lengthAdjust="spacingAndGlyphs" >50</text>
<line x1="120.50" y1="342.00" x2="123.50" y2="342.00" stroke="#0a0a0a" stroke-width="1.25" />
<text x="118.60" y="344.34" font-size="6.8" font-weight="bold" text-anchor="end" fill="#0a0a0a" stroke="#0a0a0a" stroke-width="0.1" textLength="10.09" lengthAdjust="spacingAndGlyphs" >100</text>
<line x1="120.50" y1="320.70" x2="123.50" y2="320.70" stroke="#0a0a0a" stroke-width="1.25" />
<text x="118.60" y="323.04" font-size="6.8" font-weight="bold" text-anchor="end" fill="#0a0a0a" stroke="#0a0a0a" stroke-width="0.1" textLength="10.09" lengthAdjust="spacingAndGlyphs" >150</text>
<line x1="120.50" y1="299.40" x2="123.50" y2="299.40" stroke="#0a0a0a" stroke-width="1.25" />
<text x="118.60" y="301.74" font-size="6.8" font-weight="bold" text-anchor="end" fill="#0a0a0a" stroke="#0a0a0a" stroke-width="0.1" textLength="10.09" lengthAdjust="spacingAndGlyphs" >200</text>
<line x1="123.50" y1="384.80" x2="208.70" y2="384.80" stroke="#0a0a0a" stroke-width="1.25" />
<line x1="136.40" y1="384.80" x2="136.40" y2="388.00" stroke="#0a0a0a" stroke-width="1.25" />
<text x="136.40" y="394.70" font-size="6.7" font-weight="bold" text-anchor="middle" fill="#0a0a0a" stroke="#0a0a0a" stroke-width="0.14" textLength="14.70" lengthAdjust="spacingAndGlyphs" >Day1</text>
<line x1="156.00" y1="384.80" x2="156.00" y2="388.00" stroke="#0a0a0a" stroke-width="1.25" />
<text x="156.00" y="394.70" font-size="6.7" font-weight="bold" text-anchor="middle" fill="#0a0a0a" stroke="#0a0a0a" stroke-width="0.14" textLength="14.70" lengthAdjust="spacingAndGlyphs" >Day3</text>
<line x1="175.80" y1="384.80" x2="175.80" y2="388.00" stroke="#0a0a0a" stroke-width="1.25" />
<text x="175.80" y="394.70" font-size="6.7" font-weight="bold" text-anchor="middle" fill="#0a0a0a" stroke="#0a0a0a" stroke-width="0.14" textLength="14.70" lengthAdjust="spacingAndGlyphs" >Day7</text>
<line x1="195.70" y1="384.80" x2="195.70" y2="388.00" stroke="#0a0a0a" stroke-width="1.25" />
<text x="195.70" y="394.70" font-size="6.7" font-weight="bold" text-anchor="middle" fill="#0a0a0a" stroke="#0a0a0a" stroke-width="0.14" textLength="18.12" lengthAdjust="spacingAndGlyphs" >Day14</text>
<line x1="136.40" y1="345.40" x2="136.40" y2="351.50" stroke="#0a0a0a" stroke-width="1.25" />
<line x1="136.40" y1="366.50" x2="136.40" y2="370.70" stroke="#0a0a0a" stroke-width="1.25" />
<line x1="133.40" y1="345.40" x2="139.40" y2="345.40" stroke="#0a0a0a" stroke-width="1.25" />
<line x1="133.40" y1="370.70" x2="139.40" y2="370.70" stroke="#0a0a0a" stroke-width="1.25" />
<rect x="130.30" y="351.50" width="12.20" height="15.00" fill="#ffffff" stroke="#0a0a0a" stroke-width="1.25"/>
<line x1="130.30" y1="355.10" x2="142.50" y2="355.10" stroke="#0a0a0a" stroke-width="1.25" />
<line x1="156.00" y1="345.40" x2="156.00" y2="356.40" stroke="#0a0a0a" stroke-width="1.25" />
<line x1="156.00" y1="372.10" x2="156.00" y2="376.40" stroke="#0a0a0a" stroke-width="1.25" />
<line x1="153.00" y1="345.40" x2="159.00" y2="345.40" stroke="#0a0a0a" stroke-width="1.25" />
<line x1="153.00" y1="376.40" x2="159.00" y2="376.40" stroke="#0a0a0a" stroke-width="1.25" />
<rect x="149.70" y="356.40" width="12.60" height="15.70" fill="#9f9fa2" stroke="#0a0a0a" stroke-width="1.25"/>
<line x1="149.70" y1="362.60" x2="162.30" y2="362.60" stroke="#0a0a0a" stroke-width="1.25" />
<line x1="176.00" y1="354.00" x2="176.00" y2="362.50" stroke="#0a0a0a" stroke-width="1.25" />
<line x1="176.00" y1="373.30" x2="176.00" y2="378.40" stroke="#0a0a0a" stroke-width="1.25" />
<line x1="173.00" y1="354.00" x2="179.00" y2="354.00" stroke="#0a0a0a" stroke-width="1.25" />
<line x1="173.00" y1="378.40" x2="179.00" y2="378.40" stroke="#0a0a0a" stroke-width="1.25" />
<rect x="169.90" y="362.50" width="12.20" height="10.80" fill="#7c7c7c" stroke="#0a0a0a" stroke-width="1.25"/>
<line x1="169.90" y1="365.80" x2="182.10" y2="365.80" stroke="#0a0a0a" stroke-width="1.25" />
<line x1="195.60" y1="343.40" x2="195.60" y2="359.30" stroke="#0a0a0a" stroke-width="1.25" />
<line x1="195.60" y1="374.30" x2="195.60" y2="378.50" stroke="#0a0a0a" stroke-width="1.25" />
<line x1="192.60" y1="343.40" x2="198.60" y2="343.40" stroke="#0a0a0a" stroke-width="1.25" />
<line x1="192.60" y1="378.50" x2="198.60" y2="378.50" stroke="#0a0a0a" stroke-width="1.25" />
<rect x="189.40" y="359.30" width="12.40" height="15.00" fill="#d5d5d5" stroke="#0a0a0a" stroke-width="1.25"/>
<line x1="189.40" y1="371.00" x2="201.80" y2="371.00" stroke="#0a0a0a" stroke-width="1.25" />
<circle cx="134.90" cy="324.50" r="1.05" fill="#0a0a0a"/>
<circle cx="138.10" cy="323.60" r="1.05" fill="#0a0a0a"/>
<circle cx="156.20" cy="319.90" r="1.05" fill="#0a0a0a"/>
<circle cx="176.00" cy="337.00" r="1.05" fill="#0a0a0a"/>
<circle cx="176.00" cy="344.80" r="1.05" fill="#0a0a0a"/>
<circle cx="136.40" cy="377.10" r="1.05" fill="#0a0a0a"/>
<circle cx="136.40" cy="380.20" r="1.05" fill="#0a0a0a"/>
<circle cx="156.00" cy="379.80" r="1.05" fill="#0a0a0a"/>
<circle cx="175.00" cy="381.60" r="1.05" fill="#0a0a0a"/>
<circle cx="177.20" cy="380.20" r="1.05" fill="#0a0a0a"/>
<circle cx="195.60" cy="380.70" r="1.05" fill="#0a0a0a"/>
<path d="M305.30,211.20 Q300.20,216.15 305.30,221.10" fill="none" stroke="#5a5a5a" stroke-width="0.9"/>
<path d="M310.10,211.20 Q315.20,216.15 310.10,221.10" fill="none" stroke="#5a5a5a" stroke-width="0.9"/>
<text x="306.30" y="220.00" font-size="9.2" font-weight="bold" text-anchor="start" fill="#0a0a0a" stroke="#0a0a0a" stroke-width="0.22" >f</text>
<text x="357.00" y="234.90" font-size="9.0" font-weight="bold" text-anchor="start" fill="#0a0a0a" stroke="#0a0a0a" stroke-width="0.22" textLength="148.30" lengthAdjust="spacingAndGlyphs" >Transitions of RGB distance ratio</text>
<line x1="364.90" y1="263.80" x2="364.90" y2="386.20" stroke="#0a0a0a" stroke-width="1.25" />
<line x1="361.10" y1="385.70" x2="364.90" y2="385.70" stroke="#0a0a0a" stroke-width="1.25" />
<text x="359.20" y="388.07" font-size="6.9" font-weight="bold" text-anchor="end" fill="#0a0a0a" stroke="#0a0a0a" stroke-width="0.1" textLength="9.04" lengthAdjust="spacingAndGlyphs" >0.6</text>
<line x1="361.10" y1="361.38" x2="364.90" y2="361.38" stroke="#0a0a0a" stroke-width="1.25" />
<text x="359.20" y="363.75" font-size="6.9" font-weight="bold" text-anchor="end" fill="#0a0a0a" stroke="#0a0a0a" stroke-width="0.1" textLength="9.04" lengthAdjust="spacingAndGlyphs" >0.7</text>
<line x1="361.10" y1="337.06" x2="364.90" y2="337.06" stroke="#0a0a0a" stroke-width="1.25" />
<text x="359.20" y="339.43" font-size="6.9" font-weight="bold" text-anchor="end" fill="#0a0a0a" stroke="#0a0a0a" stroke-width="0.1" textLength="9.04" lengthAdjust="spacingAndGlyphs" >0.8</text>
<line x1="361.10" y1="312.74" x2="364.90" y2="312.74" stroke="#0a0a0a" stroke-width="1.25" />
<text x="359.20" y="315.11" font-size="6.9" font-weight="bold" text-anchor="end" fill="#0a0a0a" stroke="#0a0a0a" stroke-width="0.1" textLength="9.04" lengthAdjust="spacingAndGlyphs" >0.9</text>
<line x1="361.10" y1="288.42" x2="364.90" y2="288.42" stroke="#0a0a0a" stroke-width="1.25" />
<text x="359.20" y="290.79" font-size="6.9" font-weight="bold" text-anchor="end" fill="#0a0a0a" stroke="#0a0a0a" stroke-width="0.1" textLength="9.04" lengthAdjust="spacingAndGlyphs" >1.0</text>
<line x1="361.10" y1="264.10" x2="364.90" y2="264.10" stroke="#0a0a0a" stroke-width="1.25" />
<text x="359.20" y="266.47" font-size="6.9" font-weight="bold" text-anchor="end" fill="#0a0a0a" stroke="#0a0a0a" stroke-width="0.1" textLength="9.04" lengthAdjust="spacingAndGlyphs" >1.1</text>
<line x1="364.90" y1="385.70" x2="497.00" y2="385.70" stroke="#0a0a0a" stroke-width="1.25" />
<line x1="384.80" y1="385.70" x2="384.80" y2="389.70" stroke="#0a0a0a" stroke-width="1.25" />
<text x="384.80" y="396.70" font-size="7.4" font-weight="bold" text-anchor="middle" fill="#0a0a0a" stroke="#0a0a0a" stroke-width="0.14" textLength="16.25" lengthAdjust="spacingAndGlyphs" >Day1</text>
<line x1="415.30" y1="385.70" x2="415.30" y2="389.70" stroke="#0a0a0a" stroke-width="1.25" />
<text x="415.30" y="396.70" font-size="7.4" font-weight="bold" text-anchor="middle" fill="#0a0a0a" stroke="#0a0a0a" stroke-width="0.14" textLength="16.25" lengthAdjust="spacingAndGlyphs" >Day3</text>
<line x1="445.60" y1="385.70" x2="445.60" y2="389.70" stroke="#0a0a0a" stroke-width="1.25" />
<text x="445.60" y="396.70" font-size="7.4" font-weight="bold" text-anchor="middle" fill="#0a0a0a" stroke="#0a0a0a" stroke-width="0.14" textLength="16.25" lengthAdjust="spacingAndGlyphs" >Day7</text>
<line x1="476.20" y1="385.70" x2="476.20" y2="389.70" stroke="#0a0a0a" stroke-width="1.25" />
<text x="476.20" y="396.70" font-size="7.4" font-weight="bold" text-anchor="middle" fill="#0a0a0a" stroke="#0a0a0a" stroke-width="0.14" textLength="20.03" lengthAdjust="spacingAndGlyphs" >Day14</text>
<text x="346.30" y="321.80" font-size="8.4" font-weight="normal" text-anchor="middle" fill="#222" stroke="#222" stroke-width="0.1" textLength="18.60" lengthAdjust="spacingAndGlyphs" transform="rotate(-90 346.3 321.8)">Ratio</text>
<polyline points="385.00,288.60 415.30,328.60 445.70,367.70 476.10,368.10" fill="none" stroke="#1a1a1a" stroke-width="1.05"/>
<circle cx="385.00" cy="288.60" r="2.55" fill="#0a0a0a"/>
<circle cx="415.30" cy="328.60" r="2.55" fill="#0a0a0a"/>
<circle cx="445.70" cy="367.70" r="2.55" fill="#0a0a0a"/>
<circle cx="476.10" cy="368.10" r="2.55" fill="#0a0a0a"/>
</g>
</svg>
</body></html>
